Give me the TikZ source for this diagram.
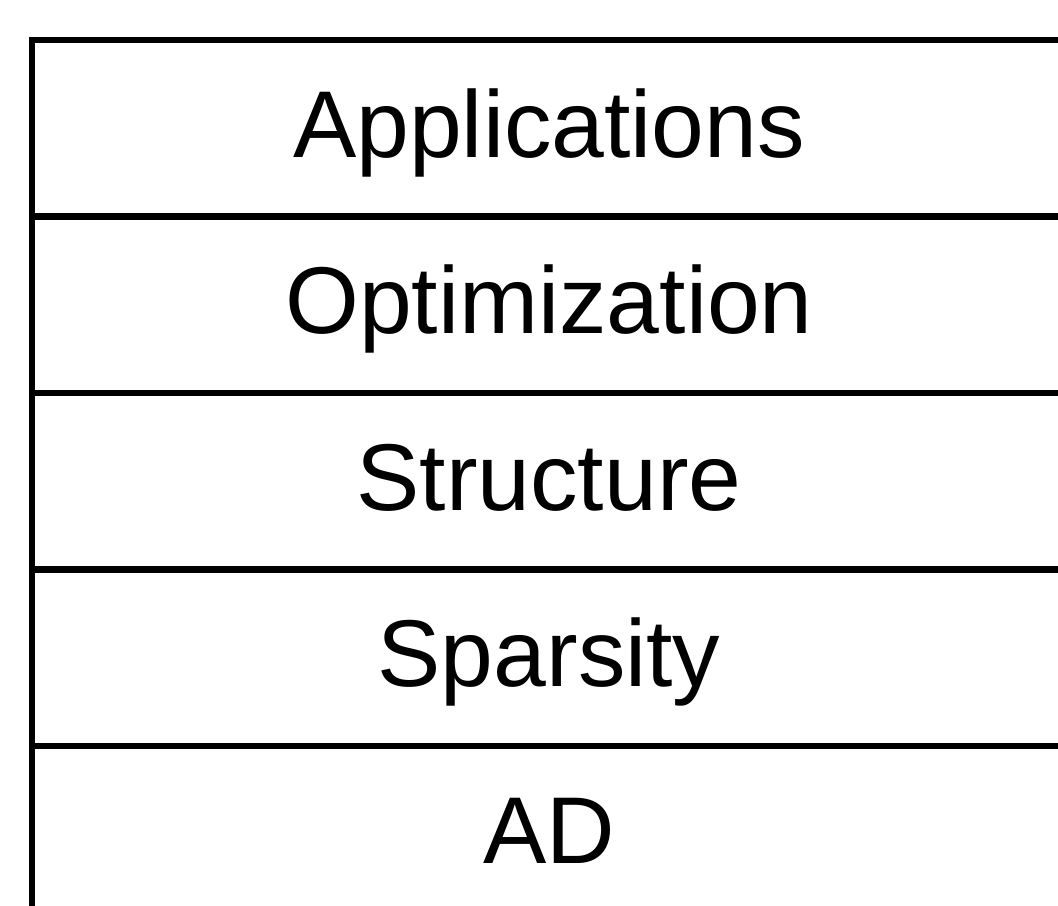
\documentclass[tikz,border=0pt]{standalone}
\usepackage{fontspec}
\setmainfont{Liberation Sans}
\usetikzlibrary{positioning}

\begin{document}
\begin{tikzpicture}[every node/.style={font=\fontsize{27}{32}\selectfont},
  layer/.style={rectangle, draw=black, line width=1.9pt, outer sep=0pt,
    text height=0.68cm, text depth=0.1cm,
    minimum width=10.34cm, minimum height=1.765cm, anchor=north west}]
\useasboundingbox (0,0) rectangle (10.58,-9.05);
\clip (0,0) rectangle (10.58,-9.05);
% Layers
\node[layer] (app) at (0.32,-0.40) {Applications};
\node[layer, below=0pt of app] (opt) {Optimization};
\node[layer, below=0pt of opt] (struct) {Structure};
\node[layer, below=0pt of struct] (sparse) {Sparsity};
\node[layer, below=0pt of sparse] (ad) {AD};
\end{tikzpicture}
\end{document}
